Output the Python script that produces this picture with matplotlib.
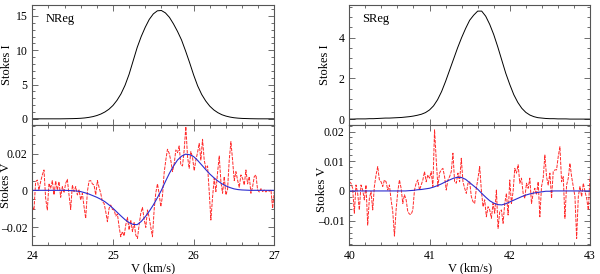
import numpy as np
import matplotlib
matplotlib.use("Agg")
import matplotlib.pyplot as plt
from matplotlib.ticker import MultipleLocator, FuncFormatter

plt.rcParams['font.family'] = ['Liberation Serif', 'DejaVu Serif']
plt.rcParams['font.size'] = 8.5

# ---------------- data: North region ----------------
n_fit_v = np.linspace(24.0, 27.0, 61)
n_stokes_i = [0, 0, 0, 0, 0, 0, 0, 0,
              0.01, 0.02, 0.03, 0.05, 0.08, 0.13, 0.21, 0.32, 0.48, 0.7,
              1.0, 1.4, 1.95, 2.7, 3.65, 4.9, 6.5, 8.45, 10.4, 12.0,
              13.35, 14.5, 15.3, 15.75, 15.8, 15.45, 14.8, 13.85, 12.75, 11.5,
              9.9, 8.2, 6.4, 4.8, 3.55, 2.6, 1.85, 1.3, 0.9, 0.6,
              0.4, 0.26, 0.16, 0.1, 0.06, 0.04, 0.02, 0.01,
              0, 0, 0, 0, 0]
n_fit = [0, 0, 0, 0, 0, 0, 0, 0, 0,
         -0.0001, -0.0002, -0.0004, -0.0007, -0.0013, -0.0020, -0.0029, -0.0038, -0.0049, -0.0062,
         -0.0079, -0.0098, -0.0119, -0.0140, -0.0160, -0.0176, -0.0186, -0.0187, -0.0170, -0.0144,
         -0.0114, -0.0080, -0.0041, 0.0000, 0.0048, 0.0093, 0.0132, 0.0165, 0.0186, 0.0197,
         0.0194, 0.0184, 0.0163, 0.0138, 0.0113, 0.0089, 0.0069, 0.0051, 0.0036, 0.0024,
         0.0015, 0.0008, 0.0004, 0.0002, 0.0001,
         0, 0, 0, 0, 0, 0, 0]
n_obs_v = np.linspace(24.0, 27.0, 146)
n_stokes_v_milli = [
    -8.9, -10.7, 4.7, 5.6, 0.2, 4.7, 8.4, 11.1, -4.4, -10.7,
    3.8, 1.1, 5.3, -2.5, 5.1, 0.2, 4.7, -3.8, 2.0, -1.3,
    3.8, 6.0, -2.5, -10.4, 2.9, -0.7, 2.0, -2.5, 0.2, -5.3,
    -1.6, -8.9, -15.3, -0.7, 5.1, 5.3, 3.5, 2.9, -2.5, 5.3,
    1.6, -1.6, -6.2, -7.1, -11.6, -17.1, -9.8, -8.0, -10.4, -10.7,
    -14.0, -12.9, -19.8, -25.3, -22.5, -24.9, -18.9, -14.7, -21.6, -16.2,
    -22.5, -17.6, -24.4, -26.2, -18.9, -12.5, -9.3, -15.8, -20.2, -10.7,
    -14.7, -20.2, -25.3, -10.7, -1.3, 3.5, -2.0, -8.9, -3.1, 9.6,
    16.5, 22.4, 20.2, 16.2, 10.2, 14.4, 22.0, 20.5, 24.2, 13.8,
    13.3, 22.0, 34.7, 18.4, 12.0, 21.1, 18.0, 10.7, 16.5, 20.5,
    25.6, 16.5, 27.8, 16.5, 12.0, 13.3, -0.7, -16.2, -3.8, 6.5,
    -0.7, 9.6, 18.7, 4.7, -1.6, 7.5, -2.5, 0.5, 16.5, 26.5,
    16.5, 5.3, 10.2, 5.6, 1.6, 8.4, 6.5, 2.9, 11.1, 3.5,
    7.5, -1.6, 2.0, 7.5, 8.4, 0.2, -0.9, 0.9, -0.7, 0.2,
    -0.9, 0.2, -0.5, 0.2, -9.8, -0.7]

# ---------------- data: South region ----------------
s_fit_v = np.linspace(40.0, 43.0, 61)
s_stokes_i = [0.0, 0.0, 0.01, 0.01, 0.01, 0.02, 0.02, 0.03, 0.04,
              0.05, 0.05, 0.06, 0.07, 0.08, 0.10, 0.12, 0.15, 0.19, 0.24,
              0.32, 0.45, 0.65, 0.95, 1.35, 1.85, 2.4, 2.95, 3.5, 4.0,
              4.45, 4.85, 5.1, 5.3, 5.3, 5.05, 4.65, 4.15, 3.55, 2.9,
              2.25, 1.7, 1.2, 0.82, 0.53, 0.33, 0.2, 0.12, 0.07, 0.05,
              0.03, 0.02, 0.02, 0.01,
              0.01, 0.01, 0.0, 0.0, 0.0, 0.0, 0.0, 0.0]
s_fit = [0, 0, 0, 0, 0, 0, 0, 0, 0, 0, 0, 0, 0, 0, 0,
         0.0001, 0.0002, 0.0004, 0.0005, 0.0007, 0.0009, 0.0013, 0.0018, 0.0024, 0.0031,
         0.0037, 0.0043, 0.0046, 0.0045, 0.0039, 0.0028, 0.0017, 0.0006, -0.0008, -0.0021,
         -0.0033, -0.0041, -0.0046, -0.0047, -0.0043, -0.0037, -0.0031, -0.0025, -0.0019, -0.0014,
         -0.0010, -0.0007, -0.0005, -0.0003, -0.0001, -0.0001,
         0, 0, 0, 0, 0, 0, 0, 0, 0, 0]
s_obs_v = np.linspace(40.0, 43.0, 145)
s_stokes_v_milli = [
    3.1, 2.6, 0.9, -7.5, 2.0, -0.8, -6.4, 2.0, 0.3, -3.0,
    2.0, -11.5, -2.5, -0.2, -6.4, 1.5, 5.4, 8.2, 3.7, 3.1,
    1.5, 3.7, 3.1, 0.3, 2.0, -3.0, -7.0, -15.2, -6.4, -0.2,
    3.7, 0.9, -4.2, -1.3, -3.0, -7.0, -7.8, -7.9, -6.4, 0.3,
    2.6, 3.7, 0.3, 2.0, 3.7, 6.5, 3.1, 5.4, 4.3, 6.5,
    1.5, 20.6, 10.5, 1.5, 6.0, 7.1, 7.6, 4.8, 0.3, 3.7,
    4.8, 6.5, 12.7, 3.1, 2.6, 6.0, 3.1, 11.0, 3.1, 0.9,
    -0.8, 2.6, 3.1, -1.9, -3.6, -4.2, 0.9, 4.3, 8.2, 0.3,
    -5.3, -3.0, -8.7, -5.3, -6.4, -9.2, -4.2, -7.5, 0.3, -12.6,
    -7.0, -6.4, -10.9, -4.2, -0.8, -8.1, 3.7, -4.2, -0.2, 7.6,
    6.0, 8.8, 2.6, 4.3, -0.8, -2.5, 2.6, 0.9, 4.3, -4.2,
    -0.8, 0.9, -1.3, 3.1, -8.7, 1.5, 4.3, 12.1, 4.8, 2.0,
    6.0, -2.5, 6.5, 7.1, 7.1, 11.6, 14.9, 3.1, 4.8, -9.2,
    2.0, 4.3, 9.3, 4.8, 1.5, -1.9, -16.0, -1.9, 1.5, -1.9,
    2.6, -0.2, -2.5, -6.4, 4.8]

region_names = ["NReg", "SReg"]

# ---------------- figure ----------------
fig = plt.figure(figsize=(6.0, 2.74), dpi=100)
W, H = 600.0, 274.0

def ax_rect(x0, x1, y0, y1):
    return [x0 / W, 1 - y1 / H, (x1 - x0) / W, (y1 - y0) / H]

spine_col = '#555555'
red = '#ff2a2a'
blue = '#2b2bd0'

def fmt(v, pos):
    if abs(v) < 1e-12:
        return '0'
    s = ('%g' % v)
    return s.replace('-', '\u2013')

def style(ax, xmaj, xmin, ymaj, ymin):
    for s in ax.spines.values():
        s.set_color(spine_col)
        s.set_linewidth(0.8)
    ax.xaxis.set_major_locator(MultipleLocator(xmaj))
    ax.xaxis.set_minor_locator(MultipleLocator(xmin))
    ax.yaxis.set_major_locator(MultipleLocator(ymaj))
    ax.yaxis.set_minor_locator(MultipleLocator(ymin))
    ax.tick_params(which='both', direction='in', top=True, right=True,
                   color=spine_col, width=0.6, labelsize=8.5, pad=3.5)
    ax.tick_params(which='major', length=4)
    ax.tick_params(which='minor', length=2)
    ax.yaxis.set_major_formatter(FuncFormatter(fmt))
    ax.xaxis.set_major_formatter(FuncFormatter(fmt))

panels = [
    dict(x0=32.3, x1=274.3, xl=(24, 27), fv=n_fit_v, si=n_stokes_i, sf=n_fit,
         ov=n_obs_v, sv=n_stokes_v_milli, ilim=(-0.9, 16.6), ima=5, imi=1,
         vlim=(-0.0298, 0.0356), vma=0.02, vmi=0.005, name=region_names[0],
         lxI=-0.078, lxV=-0.084, lyV=0.5),
    dict(x0=349.3, x1=590.0, xl=(40, 43), fv=s_fit_v, si=s_stokes_i, sf=s_fit,
         ov=s_obs_v, sv=s_stokes_v_milli, ilim=(-0.29, 5.6), ima=2, imi=0.5,
         vlim=(-0.0182, 0.0222), vma=0.01, vmi=0.002, name=region_names[1],
         lxI=-0.074, lxV=-0.09, lyV=0.46),
]

for p in panels:
    axI = fig.add_axes(ax_rect(p['x0'], p['x1'], 5, 125))
    axV = fig.add_axes(ax_rect(p['x0'], p['x1'], 125, 245))
    axI.plot(p['fv'], p['si'], color='black', lw=0.7)
    axI.set_xlim(*p['xl'])
    axI.set_ylim(*p['ilim'])
    style(axI, 1, 0.2, p['ima'], p['imi'])
    axI.tick_params(labelbottom=False)
    axI.set_ylabel('Stokes I', fontsize=9)
    axI.yaxis.set_label_coords(p['lxI'], 0.5)
    axI.text(0.055, 0.88, p['name'], transform=axI.transAxes, fontsize=9,
             ha='left', va='center')

    axV.plot(p['ov'], np.array(p['sv']) * 1e-3, color=red, lw=0.7,
             ls=(0, (3.5, 1.2)))
    axV.plot(p['fv'], p['sf'], color=blue, lw=0.8)
    axV.set_xlim(*p['xl'])
    axV.set_ylim(*p['vlim'])
    style(axV, 1, 0.2, p['vma'], p['vmi'])
    axV.set_ylabel('Stokes V', fontsize=9)
    axV.yaxis.set_label_coords(p['lxV'], p['lyV'])
    axV.set_xlabel('V (km/s)', fontsize=9, labelpad=0)

fig.savefig('out.png', dpi=100)
